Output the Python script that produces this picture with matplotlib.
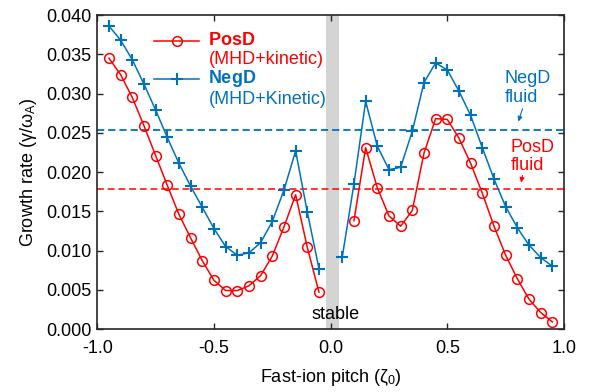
import matplotlib
matplotlib.use('Agg')
import matplotlib.pyplot as plt
from matplotlib.legend_handler import HandlerLine2D
from matplotlib.lines import Line2D
import numpy as np

plt.rcParams['font.family'] = ['Liberation Sans', 'DejaVu Sans']
plt.rcParams['mathtext.fontset'] = 'custom'
plt.rcParams['mathtext.rm'] = 'Liberation Sans'
plt.rcParams['mathtext.bf'] = 'Liberation Sans:bold'
plt.rcParams['mathtext.it'] = 'Liberation Serif:italic'
plt.rcParams['axes.unicode_minus'] = False

# PosD (MHD+kinetic) growth rates
pos_left_x = [-0.95, -0.90, -0.85, -0.80, -0.75, -0.70, -0.65, -0.60, -0.55, -0.50,
              -0.45, -0.40, -0.35, -0.30, -0.25, -0.20, -0.15, -0.10, -0.05]
pos_left_y = [0.0345, 0.0324, 0.0295, 0.0259, 0.0221, 0.0183, 0.0146, 0.0116, 0.0087, 0.0062,
              0.0049, 0.0049, 0.0055, 0.0068, 0.0093, 0.0130, 0.0171, 0.0104, 0.0047]
pos_right_x = [0.10, 0.15, 0.20, 0.25, 0.30, 0.35, 0.40, 0.45, 0.50,
               0.55, 0.60, 0.65, 0.70, 0.75, 0.80, 0.85, 0.90, 0.95]
pos_right_y = [0.0138, 0.0231, 0.0180, 0.0144, 0.0131, 0.0151, 0.0224, 0.0268, 0.0267,
               0.0243, 0.0211, 0.0173, 0.0131, 0.0094, 0.0064, 0.0038, 0.0021, 0.0009]

# NegD (MHD+Kinetic) growth rates
neg_left_x = pos_left_x
neg_left_y = [0.0386, 0.0368, 0.0343, 0.0312, 0.0279, 0.0244, 0.0211, 0.0182, 0.0155, 0.0128,
              0.0105, 0.0094, 0.0097, 0.0110, 0.0137, 0.0177, 0.0227, 0.0149, 0.0077]
neg_right_x = [0.05, 0.10, 0.15, 0.20, 0.25, 0.30, 0.35, 0.40, 0.45, 0.50,
               0.55, 0.60, 0.65, 0.70, 0.75, 0.80, 0.85, 0.90, 0.95]
neg_right_y = [0.0092, 0.0185, 0.0290, 0.0233, 0.0203, 0.0206, 0.0252, 0.0314, 0.0339, 0.0330,
               0.0303, 0.0272, 0.0231, 0.0191, 0.0156, 0.0129, 0.0107, 0.0091, 0.0080]

# fluid growth rates
pos_fluid = 0.0178
neg_fluid = 0.0254

red = '#ff0000'
blue = '#0072bd'


class RaisedLine(HandlerLine2D):
    # put the legend sample next to the first (bold) line of a two-line label
    def create_artists(self, legend, orig_handle, xdescent, ydescent, width, height,
                       fontsize, trans):
        arts = super().create_artists(legend, orig_handle, xdescent, ydescent, width,
                                      height, fontsize, trans)
        for a in arts:
            if isinstance(a, Line2D):
                a.set_ydata(np.asarray(a.get_ydata()) + 6.5)
        return arts


fig = plt.figure(figsize=(5.91, 3.92), dpi=100)
ax = fig.add_axes([0.1646, 0.1607, 0.7897, 0.801])

ax.axvspan(-0.02, 0.034, color='#d4d4d4', lw=0, zorder=0)
ax.axhline(neg_fluid, color=blue, lw=1.3, dashes=(4, 2.2), zorder=1)
ax.axhline(pos_fluid, color=red, lw=1.1, dashes=(4.5, 2.5), zorder=1)

pos_style = dict(color=red, lw=1.1, marker='o', ms=7, mfc='none', mew=1.1, zorder=3)
neg_style = dict(color=blue, lw=1.1, marker='+', ms=8, mew=1.5, zorder=3)
ln_pos, = ax.plot(pos_left_x, pos_left_y, **pos_style)
ax.plot(pos_right_x, pos_right_y, **pos_style)
ln_neg, = ax.plot(neg_left_x, neg_left_y, **neg_style)
ax.plot(neg_right_x, neg_right_y, **neg_style)

leg = ax.legend([ln_pos, ln_neg],
                [r'$\mathbf{PosD}$' + '\n(MHD+kinetic)', r'$\mathbf{NegD}$' + '\n(MHD+Kinetic)'],
                loc='upper left', bbox_to_anchor=(0.122, 0.945), frameon=False,
                fontsize=13, handlelength=2.5, handletextpad=0.5, labelspacing=0.0,
                borderpad=0, borderaxespad=0,
                handler_map={Line2D: RaisedLine()})
for t, c in zip(leg.get_texts(), [red, blue]):
    t.set_color(c)
    t.set_linespacing(1.15)

ax.text(0.747, 0.0307, 'NegD\nfluid', color=blue, fontsize=13, va='center', ha='left',
        linespacing=1.1)
ax.annotate('', xy=(0.801, 0.0261), xytext=(0.826, 0.0284),
            arrowprops=dict(arrowstyle='-|>', color=blue, lw=0.8, mutation_scale=7))
ax.text(0.772, 0.0220, 'PosD\nfluid', color=red, fontsize=13, va='center', ha='left',
        linespacing=1.1)
ax.annotate('', xy=(0.814, 0.0183), xytext=(0.824, 0.0199),
            arrowprops=dict(arrowstyle='-|>', color=red, lw=0.8, mutation_scale=7))
ax.text(0.022, 0.0018, 'stable', fontsize=13, ha='center', va='center')

ax.set_xlim(-1, 1)
ax.set_ylim(0, 0.04)
ax.set_xticks([-1.0, -0.5, 0.0, 0.5, 1.0])
ax.set_xticklabels(['-1.0', '-0.5', '0.0', '0.5', '1.0'])
yt = np.arange(0, 0.0401, 0.005)
ax.set_yticks(yt)
ax.set_yticklabels(['%.3f' % v for v in yt])
ax.tick_params(direction='in', top=True, right=True, labelsize=13, length=4, width=1,
               color='#262626')
ax.tick_params(axis='x', pad=8)
ax.tick_params(axis='y', pad=4)
for s in ax.spines.values():
    s.set_linewidth(1.2)
    s.set_color('#262626')

ax.set_xlabel('Fast-ion pitch (ζ$_0$)', fontsize=13, labelpad=7)
ax.set_ylabel('Growth rate (γ/ω$_{\\rm A}$)', fontsize=13, labelpad=5)

fig.savefig('out.png', dpi=100)
